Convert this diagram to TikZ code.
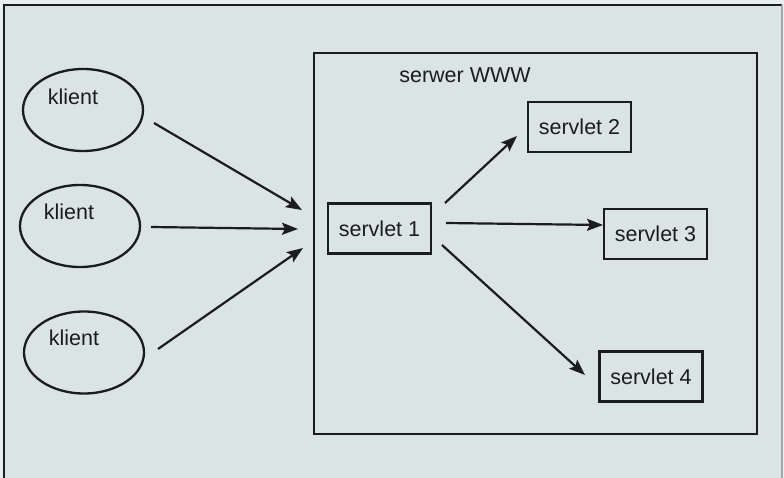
\documentclass[tikz,border=0pt]{standalone}
\usepackage{fontspec}
\setmainfont{Liberation Sans}
\usetikzlibrary{shapes.geometric,arrows.meta}
\definecolor{paper}{RGB}{218,228,229}
\definecolor{paperlight}{RGB}{232,239,240}
\definecolor{ink}{RGB}{28,28,30}
\tikzset{
  lbl/.style={font=\fontsize{21.5}{24}\selectfont, text=ink, inner sep=0pt},
  servletbox/.style={draw=ink, line width=2.3pt, minimum width=103pt, minimum height=50pt, inner sep=0pt, font=\fontsize{21.5}{24}\selectfont, text=ink},
  clientshape/.style={draw=ink, line width=2.3pt, ellipse, minimum width=120pt, minimum height=82pt, inner sep=0pt},
  conn/.style={draw=ink, line width=2.2pt, -{Stealth[length=16pt,width=12pt,inset=3pt]}},
}
\begin{document}
\begin{tikzpicture}[x=1pt,y=-1pt]
\useasboundingbox (0,0) rectangle (784,478);
\fill[paperlight] (0,0) rectangle (784,478);
\fill[paper] (4,5) rectangle (782,478);
\draw[ink, line width=2.3pt] (4,478) -- (4,5) -- (782,5);
\draw[gray!70, line width=1.2pt] (782,5) -- (782,478);

% server box
\node[draw=ink, line width=2.3pt, minimum width=443pt, minimum height=381pt, inner sep=0pt] (srv) at (535.5,243.5) {};
\node[lbl] (srvt) at (465,75) {serwer WWW};

% servlets
\node[servletbox] (s1) at (379.5,228.5) {servlet 1};
\node[servletbox] (s2) at (579.5,127) {servlet 2};
\node[servletbox] (s3) at (655.5,234) {servlet 3};
\node[servletbox] (s4) at (651,376.5) {servlet 4};

% clients
\node[clientshape] (k1) at (83,110) {};
\node[lbl] (k1t) at (73,97) {klient};
\node[clientshape] (k2) at (80,226) {};
\node[lbl] (k2t) at (69,212) {klient};
\node[clientshape] (k3) at (84,352.5) {};
\node[lbl] (k3t) at (74,338) {klient};

% connector end points
\coordinate (a1s) at (154,123);
\coordinate (a1e) at (302,210);
\coordinate (a2s) at (151,227);
\coordinate (a2e) at (298,229);
\coordinate (a3s) at (158,349);
\coordinate (a3e) at (303,248);
\coordinate (b2s) at (445,203);
\coordinate (b2e) at (517,136);
\coordinate (b3s) at (446,223);
\coordinate (b3e) at (603,225);
\coordinate (b4s) at (442,245);
\coordinate (b4e) at (585,375);

\draw[conn] (a1s) -- (a1e);
\draw[conn] (a2s) -- (a2e);
\draw[conn] (a3s) -- (a3e);
\draw[conn] (b2s) -- (b2e);
\draw[conn] (b3s) -- (b3e);
\draw[conn] (b4s) -- (b4e);
\end{tikzpicture}
\end{document}
